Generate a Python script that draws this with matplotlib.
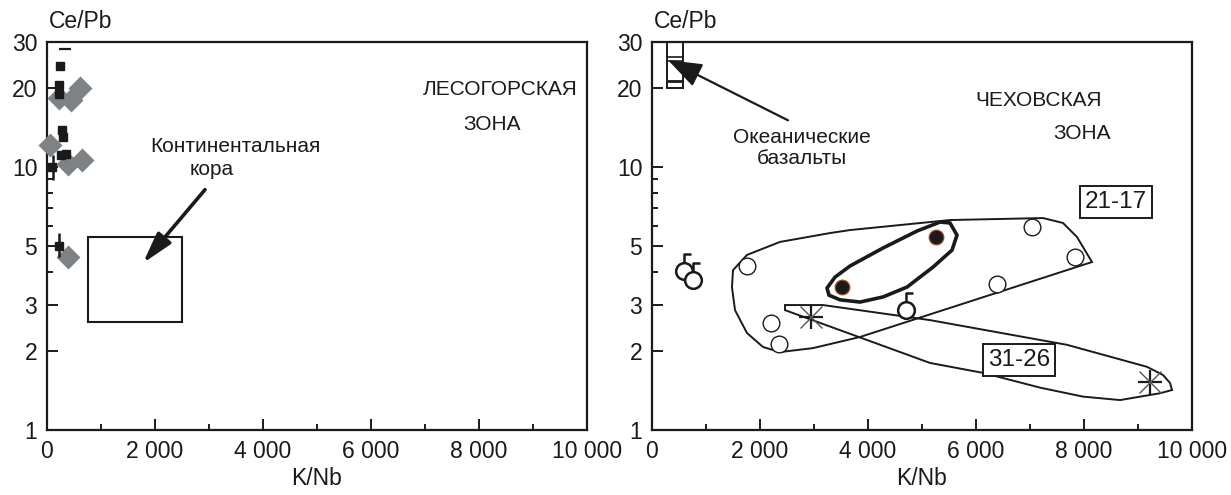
import matplotlib
matplotlib.use("Agg")
import matplotlib.pyplot as plt
from matplotlib.ticker import FixedLocator, FuncFormatter, NullFormatter
from matplotlib.path import Path

plt.rcParams['font.family'] = ['Liberation Sans', 'DejaVu Sans']

# ---------------- data ----------------
# left panel (Лесогорская зона)
left_sq_x = [241, 222, 222, 284, 302, 259, 352, 87, 228]
left_sq_y = [24.4, 20.6, 19.0, 13.9, 13.1, 11.1, 11.2, 10.05, 5.0]
left_dia_x = [229, 438, 617, 56, 395, 643, 389]
left_dia_y = [18.3, 18.0, 20.0, 12.15, 10.3, 10.7, 4.56]
err_x = [228, 105]
err_lo = [4.56, 8.93]
err_hi = [5.62, 11.1]
dash_x = [333]
dash_y = [28.2]
crust_x = [750, 2500]
crust_y = [2.58, 5.41]

# right panel (Чеховская зона)
open_x = [1759, 2204, 2352, 6389, 7037, 7833]
open_y = [4.21, 2.56, 2.12, 3.59, 5.93, 4.56]
filled_x = [3519, 5259]
filled_y = [3.50, 5.43]
flag_x = [593, 759, 4704]
flag_y = [4.03, 3.72, 2.86]
star_x = [2944, 9222]
star_y = [2.69, 1.52]
ocean_x = [280, 575]
ocean_y = [20, 30]
ocean_lines = [21.3, 25.4, 26.3]

env1_x = [1500, 1759, 2370, 3296, 3667, 5519, 7241, 7611, 7870, 8148,
          3852, 2981, 2370, 2056, 1759, 1537, 1481]
env1_y = [4.06, 4.64, 5.20, 5.62, 5.77, 6.30, 6.41, 6.14, 5.43, 4.36,
          2.26, 2.05, 1.98, 2.07, 2.34, 2.86, 3.50]
ell_x = [3241, 3389, 3667, 4278, 4907, 5333, 5519, 5648, 5556, 5204,
         4722, 4278, 3852, 3481, 3278]
ell_y = [3.47, 3.82, 4.21, 4.93, 5.72, 6.19, 6.14, 5.52, 4.84, 4.17,
         3.50, 3.21, 3.07, 3.13, 3.26]
env2_x = [2463, 3167, 5148, 7685, 9167, 9463, 9593, 9630, 9407, 8667,
          7981, 7185, 6130, 5148, 2463]
env2_y = [2.99, 2.99, 2.62, 2.11, 1.74, 1.62, 1.51, 1.42, 1.38, 1.30,
          1.34, 1.45, 1.65, 1.80, 2.86]

x_major = [0, 2000, 4000, 6000, 8000, 10000]
x_minor = [1000, 3000, 5000, 7000, 9000]
y_major = [1, 2, 3, 5, 10, 20, 30]
y_minor = [4, 6, 7, 8, 9]

K = '#1a1a1a'
GREY = '#7f8284'
FS_TICK = 16.5
FS_TXT = 15

fig = plt.figure(figsize=(12.31, 4.95), dpi=100)
axL = fig.add_axes([47/1231, 65/495, 540/1231, 388/495])
axR = fig.add_axes([652/1231, 65/495, 540/1231, 388/495])

def fmt_x(v, pos):
    return f"{int(round(v)):,}".replace(",", " ")

for ax in (axL, axR):
    ax.set_yscale('log')
    ax.set_xlim(0, 10000)
    ax.set_ylim(1, 30)
    ax.xaxis.set_major_locator(FixedLocator(x_major))
    ax.xaxis.set_minor_locator(FixedLocator(x_minor))
    ax.xaxis.set_major_formatter(FuncFormatter(fmt_x))
    ax.yaxis.set_major_locator(FixedLocator(y_major))
    ax.yaxis.set_minor_locator(FixedLocator(y_minor))
    ax.yaxis.set_major_formatter(FuncFormatter(lambda v, p: f"{v:g}"))
    ax.yaxis.set_minor_formatter(NullFormatter())
    ax.tick_params(which='both', direction='in', color=K, width=1.4,
                   labelsize=FS_TICK, labelcolor=K)
    ax.tick_params(which='major', length=8)
    ax.tick_params(which='minor', length=4.5)
    ax.tick_params(axis='x', pad=7)
    ax.tick_params(axis='y', pad=7)
    for sp in ax.spines.values():
        sp.set_linewidth(1.6)
        sp.set_color(K)
    ax.set_xlabel('K/Nb', fontsize=FS_TICK, labelpad=3, color=K)
    ax.text(0.062, 1.053, 'Ce/Pb', transform=ax.transAxes, fontsize=FS_TICK,
            ha='center', va='center', color=K)

# ---------- left panel ----------
ax = axL
ax.add_patch(plt.Rectangle((crust_x[0], crust_y[0]), crust_x[1]-crust_x[0],
                           crust_y[1]-crust_y[0], fill=False, ec=K, lw=1.5))
ax.plot(left_dia_x, left_dia_y, 'D', color=GREY, ms=12.5, mec='none',
        clip_on=False, zorder=3)
ax.vlines(err_x, err_lo, err_hi, color=K, lw=1.8, zorder=4)
ax.plot(left_sq_x, left_sq_y, 's', color=K, ms=5.5, zorder=5, clip_on=False)
ax.plot(dash_x, dash_y, '_', color=K, ms=8, mew=1.6, zorder=5)
ax.annotate('', xy=(1778, 4.32), xytext=(2926, 8.22),
            arrowprops=dict(arrowstyle='-|>,head_length=1.25,head_width=0.35',
                            lw=2.6, color=K, mutation_scale=15,
                            shrinkA=0, shrinkB=0))
ax.text(1907, 12.05, 'Континентальная', fontsize=FS_TXT, ha='left', va='center', color=K)
ax.text(3056, 9.77, 'кора', fontsize=FS_TXT, ha='center', va='center', color=K)
ax.text(8389, 19.7, 'ЛЕСОГОРСКАЯ', fontsize=FS_TXT, ha='center', va='center', color=K)
ax.text(8241, 14.5, 'ЗОНА', fontsize=FS_TXT, ha='center', va='center', color=K)

# ---------- right panel ----------
ax = axR
ax.add_patch(plt.Rectangle((ocean_x[0], ocean_y[0]), ocean_x[1]-ocean_x[0],
                           ocean_y[1]-ocean_y[0], fill=False, ec=K, lw=1.4,
                           zorder=2))
ax.hlines(ocean_lines, ocean_x[0], ocean_x[1], color=K, lw=[2.0, 1.2, 1.2],
          zorder=2)
ax.annotate('', xy=(296, 25.6), xytext=(2519, 15.1),
            arrowprops=dict(arrowstyle='-|>,head_length=1.05,head_width=0.38',
                            lw=1.6, color=K, mutation_scale=20,
                            shrinkA=0, shrinkB=0), zorder=6)
ax.text(2778, 13.0, 'Океанические', fontsize=FS_TXT, ha='center', va='center', color=K)
ax.text(2778, 10.8, 'базальты', fontsize=FS_TXT, ha='center', va='center', color=K)
ax.text(7167, 18.0, 'ЧЕХОВСКАЯ', fontsize=FS_TXT, ha='center', va='center', color=K)
ax.text(7963, 13.5, 'ЗОНА', fontsize=FS_TXT, ha='center', va='center', color=K)

ax.fill(env1_x, env1_y, fill=False, ec=K, lw=1.4, zorder=2)
ax.fill(env2_x, env2_y, fill=False, ec=K, lw=1.4, zorder=2)
ax.fill(ell_x, ell_y, fill=False, ec=K, lw=2.6, zorder=2)

ax.plot(open_x, open_y, 'o', ms=12, mfc='white', mec=K, mew=1.0, zorder=4)
ax.plot(filled_x, filled_y, 'o', ms=10.5, mfc=K, mec='#a0471c', mew=0.9,
        zorder=4)
# circles with a flag
flag_path = Path([(0, 1.0), (0, 2.0), (0.85, 2.0)],
                 [Path.MOVETO, Path.LINETO, Path.LINETO])
ax.plot(flag_x, flag_y, 'o', ms=12, mfc='white', mec=K, mew=1.8, zorder=5)
ax.plot(flag_x, flag_y, marker=flag_path, ls='none', ms=24, mfc='none',
        mec=K, mew=1.8, zorder=5)
ax.plot(star_x, star_y, '+', ms=17, mec=K, mew=1.6, zorder=5)
ax.plot(star_x, star_y, 'x', ms=16, mec='#555555', mew=1.0, zorder=5)

bb = dict(boxstyle='square,pad=0.2', fc='white', ec=K, lw=1.4)
ax.text(8593, 7.38, '21-17', fontsize=17.5, ha='center', va='center', bbox=bb,
        zorder=6, color=K)
ax.text(6796, 1.85, '31-26', fontsize=17.5, ha='center', va='center', bbox=bb,
        zorder=6, color=K)

fig.savefig('out.png', dpi=100)
